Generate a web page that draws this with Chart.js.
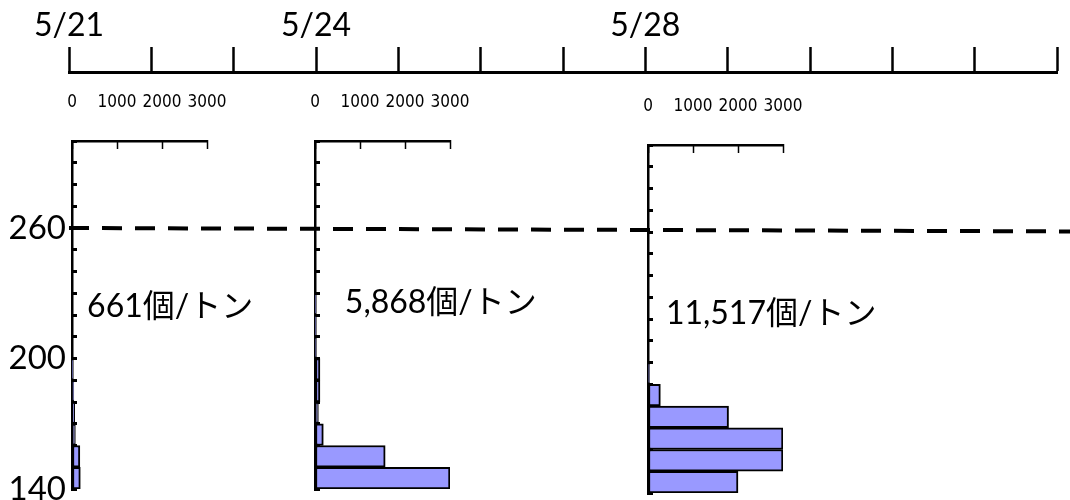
<!DOCTYPE html>
<html>
<head>
<meta charset="utf-8">
<script src="https://cdn.jsdelivr.net/npm/chart.js@4.4.1/dist/chart.umd.min.js"></script>
<style>
body { margin: 0; background: #fff; }
#wrap { position: relative; width: 1070px; height: 500px; overflow: hidden; background: #fff; }
#wrap canvas { position: absolute; }
</style>
</head>
<body>
<div id="wrap">
  <canvas id="p0" width="241" height="520"></canvas>
  <canvas id="p1" width="241" height="520"></canvas>
  <canvas id="p2" width="241" height="520"></canvas>
  <canvas id="main" width="1070" height="520"></canvas>
</div>
<script>
// size classes (lower edge of each 10-unit bin)
var bins = [140, 150, 160, 170, 180, 190, 200, 210, 220, 230, 240, 250, 260, 270, 280, 290];
var binWidth = 10;

// counts per bin
var counts0521 = [185, 175, 75, 60, 40, 15, 0, 0, 0, 0, 0, 0, 0, 0, 0, 0];
var counts0524 = [3000, 1560, 185, 75, 110, 110, 25, 20, 20, 0, 0, 0, 0, 0, 0, 0];
var counts0528 = [2000, 3000, 3000, 1790, 275, 30, 0, 0, 0, 0, 0, 0, 0, 0, 0, 0];

var dates = ['5/21', '5/22', '5/23', '5/24', '5/25', '5/26', '5/27', '5/28', '5/29', '5/30', '5/31', '6/1', '6/2'];
var labeledDates = ['5/21', '5/24', '5/28'];
var sizeTicks = [140, 200, 260];
var countMax = 3000;
var countStep = 1000;
var limitLine = 260;
var notes = ['661個/トン', '5,868個/トン', '11,517個/トン'];

// layout (pixels / scale positions, not data)
var panelLeft = [72, 315, 648];
var panelTop = [0, 0, 4];
var panelInset = 46;   // canvas left edge -> chart area left
var notePos = [[0.22, 223.7], [3.35, 225.5], [7.25, 220.5]];

Chart.defaults.font.family = 'Lato, "Noto Sans CJK JP", sans-serif';
Chart.defaults.color = '#000';

var narrow = '"Liberation Sans Narrow", "DejaVu Sans Condensed", "Liberation Sans", sans-serif';

function makePanel(id, counts, left, top) {
    var cv = document.getElementById(id);
    cv.style.left = (left - panelInset) + 'px';
    cv.style.top = top + 'px';
    return new Chart(cv, {
        type: 'bar',
        data: {
            datasets: [{
                data: bins.map(function (b, i) { return {x: counts[i], y: b + binWidth / 2}; }),
                backgroundColor: '#9999ff',
                borderColor: '#000',
                borderWidth: 2,
                borderSkipped: false,
                barPercentage: 1,
                categoryPercentage: 1
            }]
        },
        options: {
            indexAxis: 'y',
            responsive: false,
            animation: false,
            layout: { padding: { left: panelInset - 6, right: 60, top: 0, bottom: 31 } },
            plugins: { legend: { display: false }, tooltip: { enabled: false } },
            scales: {
                x: {
                    type: 'linear',
                    position: 'top',
                    min: 0,
                    max: countMax,
                    afterFit: function (s) { s.height = 141; },
                    grid: { drawOnChartArea: false, tickLength: -8, tickWidth: 1.5, tickColor: '#000' },
                    border: { width: 2.5, color: '#000' },
                    ticks: {
                        stepSize: countStep,
                        autoSkip: false,
                        padding: 36,
                        maxRotation: 0,
                        font: { family: narrow, size: 17 },
                        callback: function (v) { return String(v); }
                    }
                },
                y: {
                    type: 'linear',
                    min: bins[0],
                    max: bins[bins.length - 1] + binWidth,
                    offset: false,
                    afterFit: function (s) { s.width = 6; },
                    grid: { offset: false, drawOnChartArea: false, tickLength: -5, tickWidth: 3, tickColor: '#000' },
                    border: { width: 2.5, color: '#000' },
                    ticks: { stepSize: binWidth, display: false }
                }
            }
        }
    });
}

makePanel('p0', counts0521, panelLeft[0], panelTop[0]);
makePanel('p1', counts0524, panelLeft[1], panelTop[1]);
makePanel('p2', counts0528, panelLeft[2], panelTop[2]);

var notePlugin = {
    id: 'notes',
    afterDatasetsDraw: function (chart) {
        var ctx = chart.ctx, xs = chart.scales.x, ys = chart.scales.y;
        ctx.save();
        ctx.font = '32px Lato, "Noto Sans CJK JP", sans-serif';
        ctx.fillStyle = '#000';
        ctx.textBaseline = 'middle';
        notes.forEach(function (t, i) {
            ctx.fillText(t, xs.getPixelForValue(notePos[i][0]), ys.getPixelForValue(notePos[i][1]));
        });
        ctx.restore();
    }
};

var main = new Chart(document.getElementById('main'), {
    type: 'line',
    data: {
        datasets: [{
            data: [{ x: 0, y: limitLine }, { x: 12.2, y: limitLine - 1.6 }],
            borderColor: '#000',
            borderWidth: 4,
            borderDash: [20, 13],
            pointRadius: 0,
            clip: false
        }]
    },
    options: {
        responsive: false,
        animation: false,
        layout: { padding: { left: 5, right: 13, top: 0, bottom: 31 } },
        plugins: { legend: { display: false }, tooltip: { enabled: false } },
        scales: {
            x: {
                type: 'linear',
                position: 'top',
                min: 0,
                max: dates.length - 1,
                afterFit: function (s) { s.height = 72; },
                grid: { drawOnChartArea: false, tickLength: 25, tickWidth: 2.5, tickColor: '#000' },
                border: { width: 3, color: '#000' },
                ticks: {
                    stepSize: 1,
                    autoSkip: false,
                    maxRotation: 0,
                    padding: 2,
                    font: { size: 32 },
                    callback: function (v) { return labeledDates.indexOf(dates[v]) >= 0 ? dates[v] : ''; }
                }
            },
            y: {
                min: bins[0],
                max: 331.7,
                afterFit: function (s) { s.width = 64; },
                afterBuildTicks: function (s) { s.ticks = sizeTicks.map(function (v) { return { value: v }; }); },
                grid: { display: false, drawTicks: false },
                border: { display: false },
                ticks: { padding: 3, font: { size: 33 } }
            }
        }
    },
    plugins: [notePlugin]
});
</script>
</body>
</html>
